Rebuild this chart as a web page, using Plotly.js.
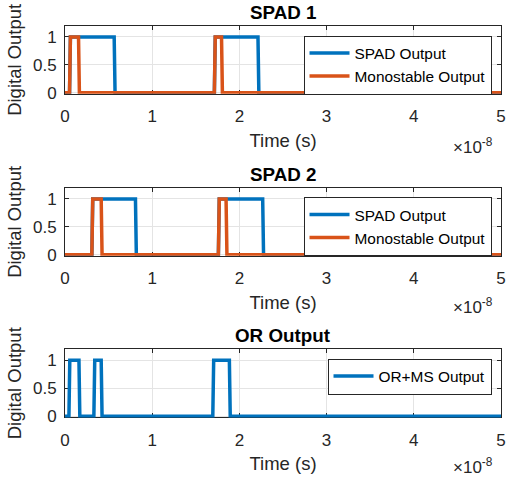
<!DOCTYPE html>
<html>
<head>
<meta charset="utf-8">
<script src="https://cdn.plot.ly/plotly-3.0.1.min.js"></script>
<style>html,body{margin:0;padding:0;background:#fff;}#chart{width:507px;height:484px;}</style>
</head>
<body>
<div id="chart"></div>
<script>
// Time in units of 1e-8 s
const spad1Time      = [0, 0.052, 0.062, 0.564, 0.574, 1.713, 1.723, 2.213, 2.223, 5];
const spad1Output    = [0, 0,     1,     1,     0,     0,     1,     1,     0,     0];
const mono1Time      = [0, 0.052, 0.062, 0.155, 0.165, 1.713, 1.723, 1.795, 1.805, 5];
const mono1Output    = [0, 0,     1,     1,     0,     0,     1,     1,     0,     0];
const spad2Time      = [0, 0.308, 0.318, 0.808, 0.818, 1.759, 1.769, 2.267, 2.277, 5];
const spad2Output    = [0, 0,     1,     1,     0,     0,     1,     1,     0,     0];
const mono2Time      = [0, 0.308, 0.318, 0.415, 0.425, 1.759, 1.769, 1.847, 1.857, 5];
const mono2Output    = [0, 0,     1,     1,     0,     0,     1,     1,     0,     0];
const orTime         = [0, 0.045, 0.055, 0.160, 0.170, 0.331, 0.341, 0.415, 0.425, 1.695, 1.705, 1.885, 1.895, 5];
const orOutput       = [0, 0,     1,     1,     0,     0,     1,     1,     0,     0,     1,     1,     0,     0];

const subplotTitles = ['SPAD 1', 'SPAD 2', 'OR Output'];
const xTitle = 'Time (s)';
const yTitle = 'Digital Output';
const xExponent = '\u00d710<sup>-8</sup>';
const yTickVals = [0, 0.5, 1];
const yTickText = ['0', '0.5', '1'];

const BLUE = '#0072BD', ORANGE = '#D95319';
const FONT = 'Liberation Sans, Arial, sans-serif';
const LW = 3.5;

const traces = [
  {x: spad1Time, y: spad1Output, name: 'SPAD Output', xaxis: 'x', yaxis: 'y', legend: 'legend', line: {color: BLUE, width: LW}},
  {x: mono1Time, y: mono1Output, name: 'Monostable Output', xaxis: 'x', yaxis: 'y', legend: 'legend', line: {color: ORANGE, width: LW}},
  {x: spad2Time, y: spad2Output, name: 'SPAD Output', xaxis: 'x2', yaxis: 'y2', legend: 'legend2', line: {color: BLUE, width: LW}},
  {x: mono2Time, y: mono2Output, name: 'Monostable Output', xaxis: 'x2', yaxis: 'y2', legend: 'legend2', line: {color: ORANGE, width: LW}},
  {x: orTime, y: orOutput, name: 'OR+MS Output', xaxis: 'x3', yaxis: 'y3', legend: 'legend3', line: {color: BLUE, width: LW}}
].map(t => Object.assign({type: 'scatter', mode: 'lines', hoverinfo: 'skip'}, t));

const H = 484;
const domains = [[0.80620, 0.94659], [0.47149, 0.61188], [0.13760, 0.27872]];

function xAxis(anchor) {
  return {
    anchor: anchor, domain: [0, 1], range: [0, 5], dtick: 1, tick0: 0,
    showgrid: true, gridcolor: '#e4e4e4', gridwidth: 1, zeroline: false,
    ticks: 'inside', ticklen: 4, tickcolor: '#262626', tickwidth: 1,
    showline: true, linecolor: '#262626', linewidth: 1, mirror: 'ticks',
    layer: 'below traces',
    tickfont: {family: FONT, size: 17, color: '#262626'},
    ticklabelstandoff: 7,
    title: {text: xTitle, font: {family: FONT, size: 18.5, color: '#262626'}, standoff: 8},
    fixedrange: true
  };
}
function yAxis(anchor, dom) {
  return {
    anchor: anchor, domain: dom, range: [-0.02, 1.2],
    tickvals: yTickVals, ticktext: yTickText,
    showgrid: true, gridcolor: '#e4e4e4', gridwidth: 1, zeroline: false,
    ticks: 'inside', ticklen: 4, tickcolor: '#262626', tickwidth: 1,
    showline: true, linecolor: '#262626', linewidth: 1, mirror: 'ticks',
    layer: 'below traces',
    tickfont: {family: FONT, size: 17, color: '#262626'},
    ticklabelstandoff: 4,
    title: {text: yTitle, font: {family: FONT, size: 18.5, color: '#262626'}, standoff: 6},
    fixedrange: true
  };
}
function legendAt(topPx) {
  return {
    x: (492 - 65) / 436.5, xanchor: 'right', xref: 'paper',
    y: 1 - topPx / H, yanchor: 'top', yref: 'paper',
    bgcolor: '#ffffff', bordercolor: '#262626', borderwidth: 1,
    font: {family: FONT, size: 15.4, color: '#000'},
    itemwidth: 40, tracegroupgap: 0
  };
}

const annotations = [];
const titleY = [12.5, 175, 335];
subplotTitles.forEach((t, i) => {
  annotations.push({text: '<b>' + t + '</b>', xref: 'paper', yref: 'paper', x: 0.5, y: 1 - titleY[i] / H,
    xanchor: 'center', yanchor: 'middle', showarrow: false, font: {family: FONT, size: 18.8, color: '#000'}});
});
const expY = [146, 306, 466];
expY.forEach(py => {
  annotations.push({text: xExponent, xref: 'paper', yref: 'paper', x: (495 - 65) / 436.5, y: 1 - py / H,
    xanchor: 'right', yanchor: 'middle', showarrow: false, font: {family: FONT, size: 17, color: '#262626'}});
});

const layout = {
  width: 507, height: 484,
  margin: {l: 65, r: 5.5, t: 0, b: 0, pad: 0},
  paper_bgcolor: '#ffffff', plot_bgcolor: '#ffffff',
  showlegend: true,
  xaxis: xAxis('y'), yaxis: yAxis('x', domains[0]),
  xaxis2: xAxis('y2'), yaxis2: yAxis('x2', domains[1]),
  xaxis3: xAxis('y3'), yaxis3: yAxis('x3', domains[2]),
  legend: legendAt(35.5), legend2: legendAt(197), legend3: legendAt(358.5),
  annotations: annotations
};

Plotly.newPlot('chart', traces, layout, {displayModeBar: false, staticPlot: true});
</script>
</body>
</html>
